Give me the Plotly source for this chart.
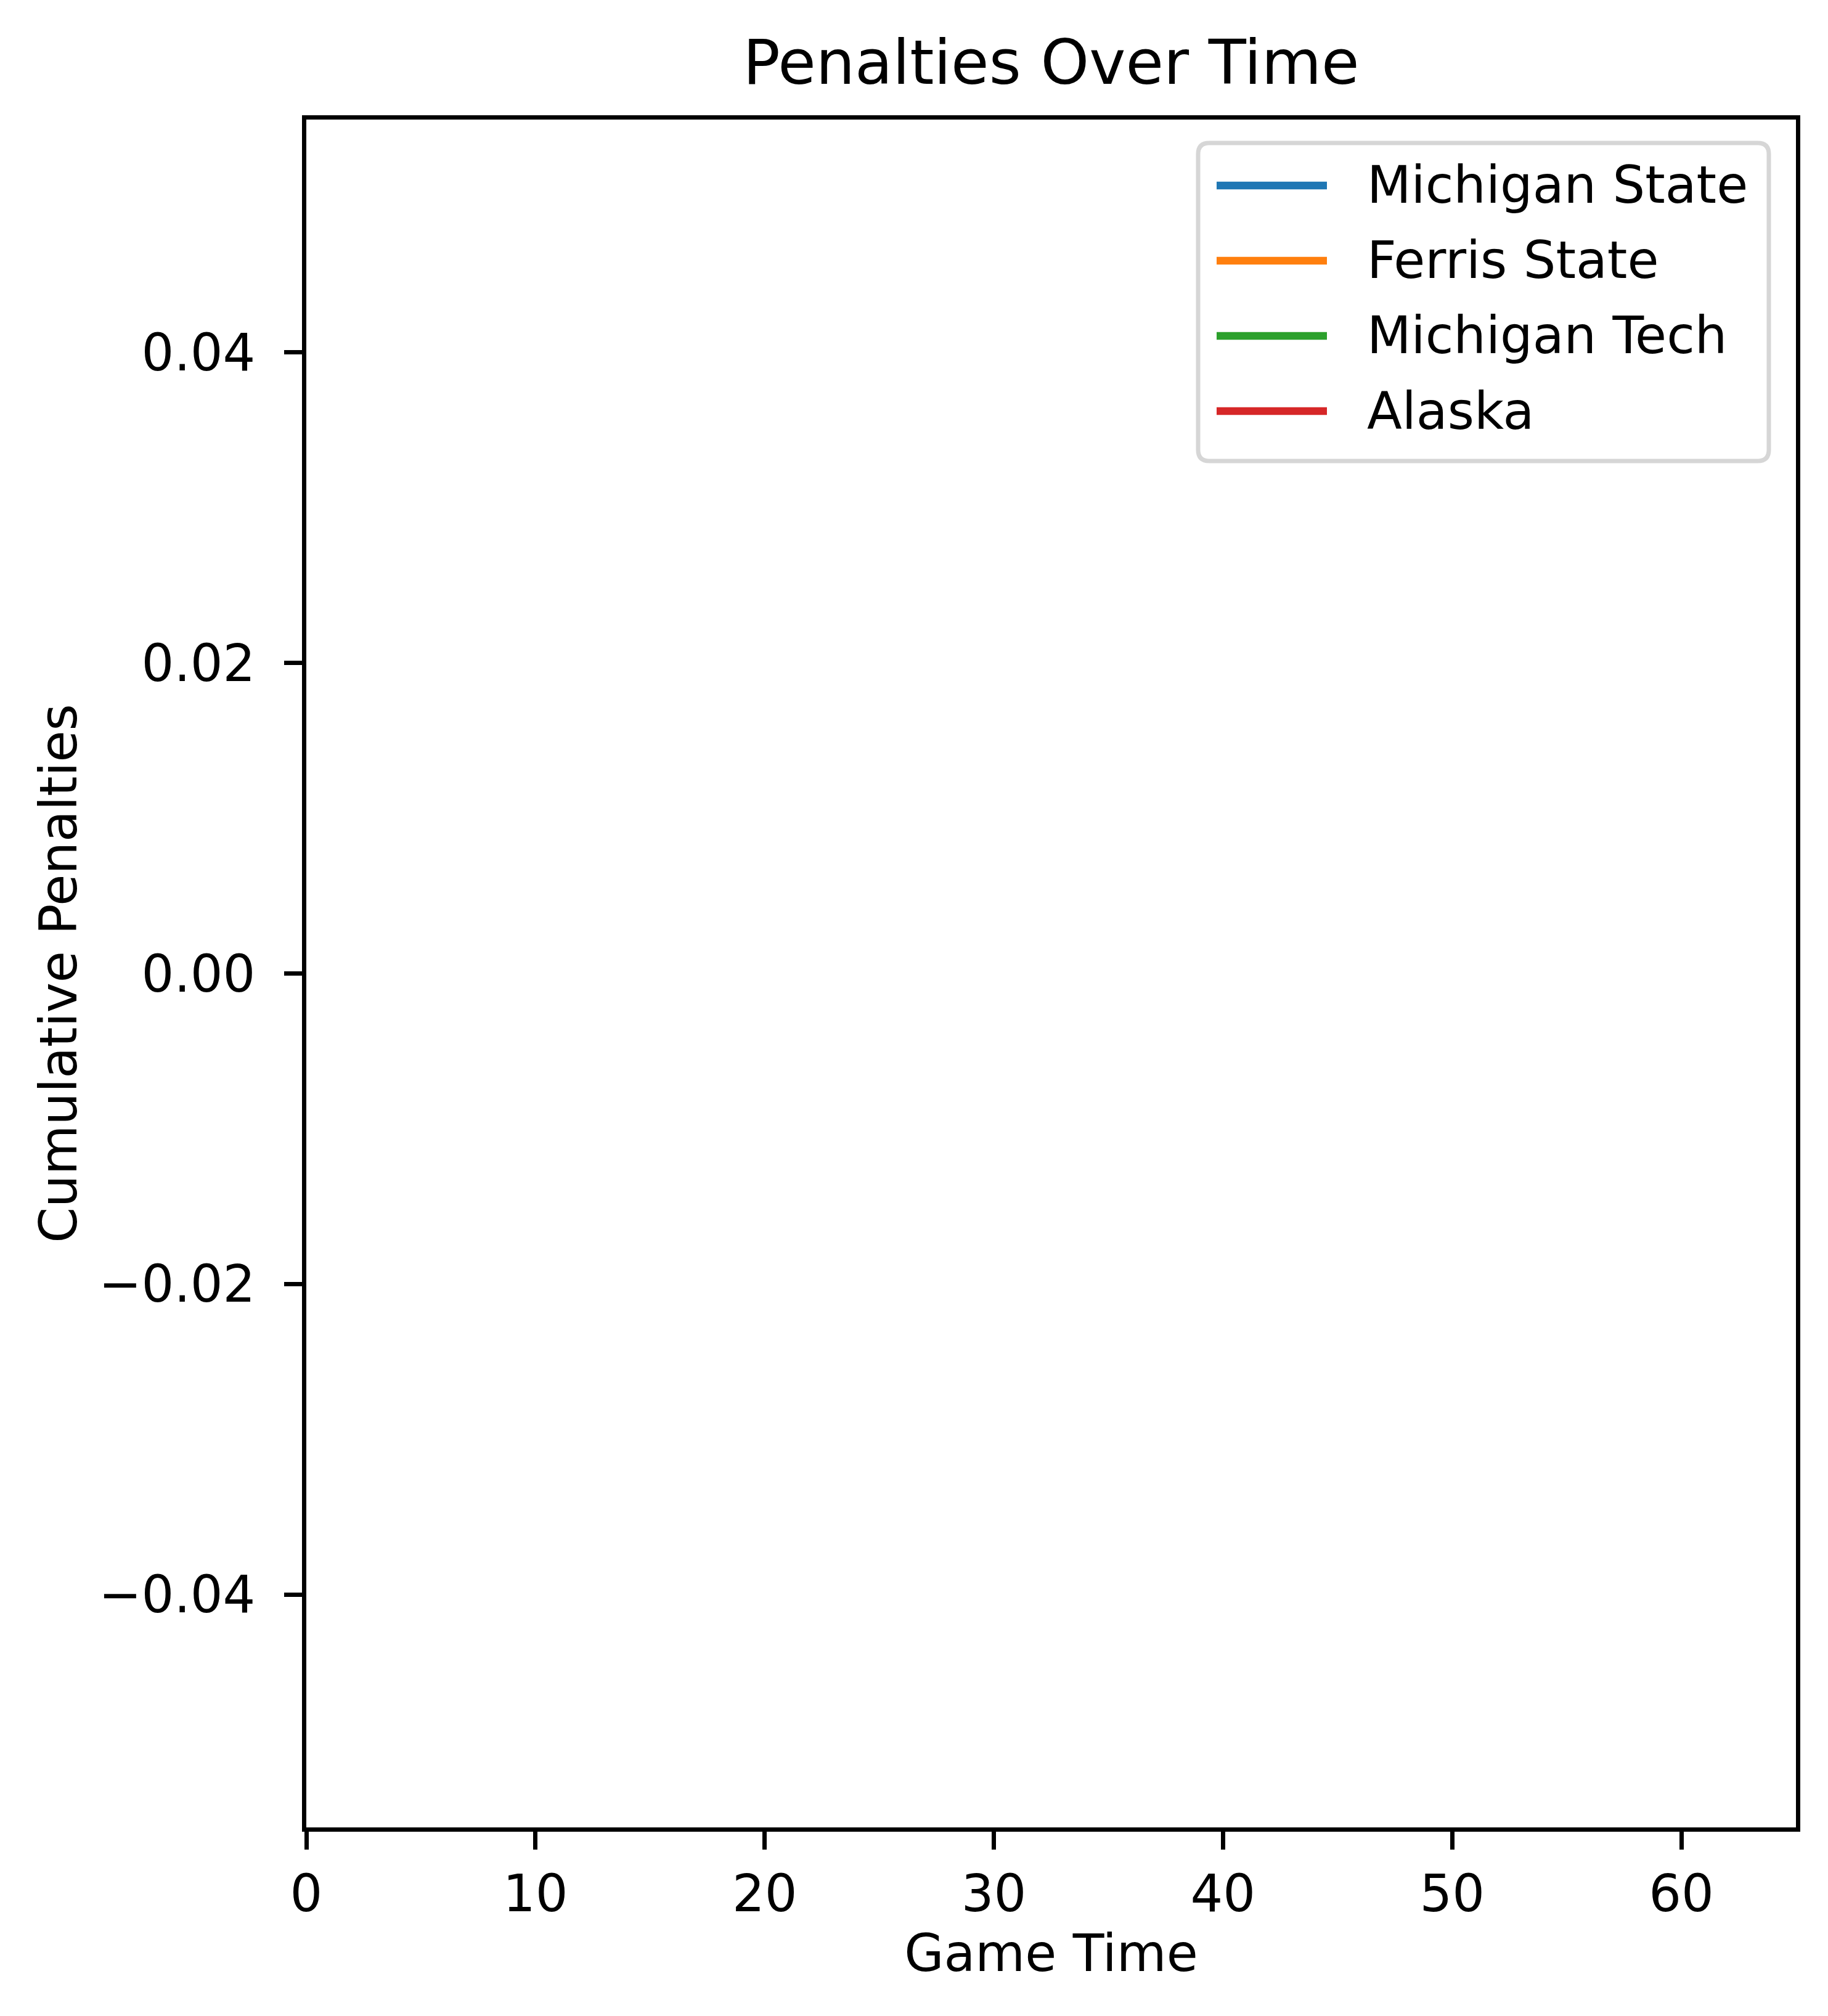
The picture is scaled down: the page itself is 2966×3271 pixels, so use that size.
import plotly.graph_objects as go

# ---- data (the reference chart has empty series: no points were drawn) ----
teams = ["Michigan State", "Ferris State", "Michigan Tech", "Alaska"]
colors = ["#1f77b4", "#ff7f0e", "#2ca02c", "#d62728"]
game_time = {t: [] for t in teams}
cum_penalties = {t: [] for t in teams}

x_tick_vals = [0, 10, 20, 30, 40, 50, 60]
x_tick_text = ["0", "10", "20", "30", "40", "50", "60"]
y_tick_vals = [-0.04, -0.02, 0.0, 0.02, 0.04]
y_tick_text = ["\u22120.04", "\u22120.02", "0.00", "0.02", "0.04"]

FONT = "DejaVu Sans"
FS = 83
LINE_W = 12.5

fig = go.Figure()
for i, t in enumerate(teams):
    fig.add_trace(go.Scatter(
        x=game_time[t], y=cum_penalties[t], mode="lines", name=t,
        showlegend=False,
        line=dict(color=colors[i], width=LINE_W),
    ))

W, H = 2966, 3271
L, R, T, B = 489, 2906, 186, 2957


def px(xp):
    return (xp - L) / (R - L)


def py(yp):
    return 1 - (yp - T) / (B - T)


# ---- legend box (matplotlib-style, upper right, rounded frame) ----
bx0, bx1, by0, by1, rad = 1936, 2862, 224, 740, 18
rx, ry = rad / (R - L), rad / (B - T)
X0, X1, Y0, Y1 = px(bx0), px(bx1), py(by0), py(by1)
path = (f"M{X0 + rx},{Y0} L{X1 - rx},{Y0} Q{X1},{Y0} {X1},{Y0 - ry} "
        f"L{X1},{Y1 + ry} Q{X1},{Y1} {X1 - rx},{Y1} L{X0 + rx},{Y1} "
        f"Q{X0},{Y1} {X0},{Y1 + ry} L{X0},{Y0 - ry} Q{X0},{Y0} {X0 + rx},{Y0} Z")
shapes = [dict(type="path", xref="paper", yref="paper", path=path,
               fillcolor="white", line=dict(color="#d6d6d6", width=7), layer="above")]
annotations = []
row0, row_step = 293, 122
for i, t in enumerate(teams):
    yy = py(row0 + i * row_step)
    shapes.append(dict(type="line", xref="paper", yref="paper",
                       x0=px(1966), x1=px(2145), y0=yy, y1=yy,
                       line=dict(color=colors[i], width=LINE_W), layer="above"))
    annotations.append(dict(xref="paper", yref="paper", x=px(2208), y=yy,
                            xanchor="left", yanchor="middle", showarrow=False,
                            text=t, font=dict(family=FONT, size=FS, color="black")))

fig.update_layout(
    width=W, height=H,
    margin=dict(l=L, r=W - R, t=T, b=H - B, pad=0),
    paper_bgcolor="white", plot_bgcolor="white",
    font=dict(family=FONT, size=FS, color="black"),
    title=dict(text="Penalties Over Time", x=0.5, xref="paper", xanchor="center",
               y=1 - 128 / H, yref="container", yanchor="bottom",
               font=dict(family=FONT, size=100, color="black")),
    showlegend=False,
    shapes=shapes,
    annotations=annotations,
    xaxis=dict(
        range=[0, 65], tickmode="array", tickvals=x_tick_vals, ticktext=x_tick_text,
        showgrid=False, zeroline=False,
        showline=True, linecolor="black", linewidth=7, mirror=True,
        ticks="outside", ticklen=29, tickwidth=7, tickcolor="black",
        tickfont=dict(family=FONT, size=FS, color="black"),
        ticklabelstandoff=0,
        title=dict(text="Game Time", font=dict(family=FONT, size=FS, color="black"), standoff=20),
        automargin=False,
    ),
    yaxis=dict(
        range=[-0.055, 0.055], tickmode="array", tickvals=y_tick_vals, ticktext=y_tick_text,
        showgrid=False, zeroline=False,
        showline=True, linecolor="black", linewidth=7, mirror=True,
        ticks="outside", ticklen=29, tickwidth=7, tickcolor="black",
        tickfont=dict(family=FONT, size=FS, color="black"),
        ticklabelstandoff=30,
        title=dict(text="Cumulative Penalties", font=dict(family=FONT, size=FS, color="black"), standoff=10),
        automargin=False,
    ),
)

fig.write_html("out.html")
